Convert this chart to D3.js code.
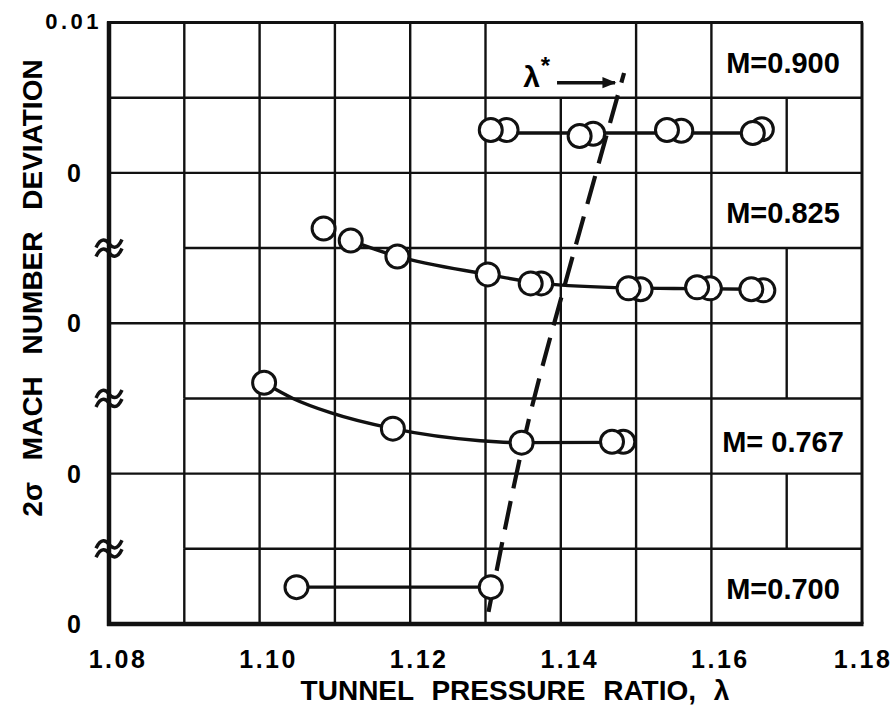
<!DOCTYPE html>
<html lang="en">
<head>
<meta charset="UTF-8">
<title>2σ Mach number deviation vs tunnel pressure ratio</title>
<script src="https://d3js.org/d3.v7.min.js"></script>
<style>
  body { margin: 0; background: #fff; }
  svg { display: block; font-family: 'Liberation Sans', Arial, sans-serif; font-weight: bold; }
  .grid { stroke: #111; stroke-width: 2.4; }
  .curve { fill: none; stroke: #111; stroke-width: 3.4; }
  .pt { fill: #fff; stroke: #111; stroke-width: 3; }
</style>
</head>
<body>
<svg id="chart" width="896" height="715"></svg>
<script>
// tunnel pressure ratio (lambda) and 2-sigma deviation per Mach number
const m900Lambda = [1.1307, 1.1328, 1.1425, 1.1443, 1.1541, 1.1560, 1.1655, 1.1667];
const m900Sigma  = [0.00285, 0.00285, 0.00245, 0.0026, 0.00285, 0.0028, 0.00265, 0.0029];
const m900FitL   = [1.1328, 1.1655];
const m900FitS   = [0.00265, 0.00265];

const m825Lambda = [1.1085, 1.1121, 1.1183, 1.1303, 1.1360, 1.1374, 1.1490, 1.1506, 1.1581, 1.1598, 1.1653, 1.1669];
const m825Sigma  = [0.0063, 0.0055, 0.00444, 0.00325, 0.00265, 0.00265, 0.00232, 0.00226, 0.00239, 0.00232, 0.00226, 0.00219];
const m825FitL   = [1.1121, 1.1183, 1.1303, 1.1374, 1.1490, 1.1581, 1.1653];
const m825FitS   = [0.0055, 0.00444, 0.00325, 0.00265, 0.00235, 0.0023, 0.00226];

const m767Lambda = [1.1006, 1.1177, 1.1348, 1.1468, 1.1483];
const m767Sigma  = [0.00604, 0.00299, 0.00206, 0.00212, 0.00212];
const m767FitL   = [1.1006, 1.1045, 1.1094, 1.1177, 1.1293, 1.1348, 1.1468];
const m767FitS   = [0.00604, 0.00498, 0.00405, 0.00299, 0.00219, 0.00206, 0.00208];

const m700Lambda = [1.1049, 1.1307];
const m700Sigma  = [0.00245, 0.00245];
const m700FitL   = [1.1049, 1.1307];
const m700FitS   = [0.00245, 0.00245];

// each Mach number gets its own 0..0.01 band, stacked on one axis
const machLabels = ["M=0.900", "M=0.825", "M= 0.767", "M=0.700"];
const panelBase  = [0.03, 0.02, 0.01, 0];
const labelSigma = [0.0074, 0.0074, 0.0022, 0.0024];

// critical pressure ratio locus (on the stacked axis)
const starLambda = [1.1304, 1.1349, 1.1406, 1.1433, 1.1484];
const starSigma  = [0.0008, 0.01177, 0.02268, 0.02753, 0.03664];

const xTicks = [1.08, 1.10, 1.12, 1.14, 1.16, 1.18];
const xTickLabels = ["1.08", "1.10", "1.12", "1.14", "1.16", "1.18"];
const yTicks = [0, 0.01, 0.02, 0.03, 0.04];
const yTickLabels = ["0", "0", "0", "0", "0.01"];
const breaks = [0.005, 0.015, 0.025];

const svg = d3.select('#chart');
const pLeft = 109, pRight = 862, pTop = 22.5, pBottom = 624;

const x = d3.scaleLinear().domain([1.08, 1.18]).range([pLeft, pRight]);
const y = d3.scaleLinear().domain([0, 0.04]).range([pBottom, pTop]);

// grid: 10 columns x 8 rows, with a few cells left open for the labels
const cols = d3.range(1, 10).map(i => 1.08 + i * 0.01);
const rows = d3.range(8).map(r => [0.04 - (r + 1) * 0.005, 0.04 - r * 0.005]);
const open = (i, r) => (i === 6 && r === 0) || (i === 9 && [0, 2, 5, 7].includes(r));

const g = svg.append('g');
cols.forEach((cx, k) => {
  rows.forEach((rw, r) => {
    if (open(k + 1, r)) return;
    g.append('line').attr('class', 'grid')
      .attr('x1', x(cx)).attr('x2', x(cx))
      .attr('y1', y(rw[0])).attr('y2', y(rw[1]));
  });
});
d3.range(1, 8).forEach(k => {
  const v = k * 0.005;
  const isBreak = breaks.some(b => Math.abs(b - v) < 1e-9);
  g.append('line').attr('class', 'grid')
    .attr('x1', x(isBreak ? 1.09 : 1.08)).attr('x2', x(1.18))
    .attr('y1', y(v)).attr('y2', y(v));
});

// frame
g.append('line').attr('x1', pLeft - 2).attr('x2', pRight + 1).attr('y1', pTop).attr('y2', pTop)
  .attr('stroke', '#111').attr('stroke-width', 3);
g.append('line').attr('x1', pRight).attr('x2', pRight).attr('y1', pTop).attr('y2', pBottom)
  .attr('stroke', '#111').attr('stroke-width', 3);
g.append('line').attr('x1', pLeft).attr('x2', pLeft).attr('y1', pTop - 1).attr('y2', pBottom + 2)
  .attr('stroke', '#111').attr('stroke-width', 4.5);
g.append('line').attr('x1', pLeft - 2).attr('x2', pRight + 1.5).attr('y1', pBottom).attr('y2', pBottom)
  .attr('stroke', '#111').attr('stroke-width', 4.5);

// axis break marks
breaks.forEach(b => {
  [-4.5, 4.5].forEach(off => {
    g.append('path')
      .attr('transform', `translate(${pLeft},${y(b) + off})`)
      .attr('d', 'M-13,4 C-8,-7 -3,-4 0,0 C3,4 8,7 13,-4')
      .attr('fill', 'none').attr('stroke', '#111').attr('stroke-width', 3.5);
  });
});

// tick labels (hand lettering sits a little right of each tick; last one kept inside)
svg.selectAll('.xt').data(xTicks).enter().append('text')
  .attr('x', (d, i) => x(d) + (i === xTicks.length - 1 ? 1 : 9)).attr('y', 668)
  .attr('text-anchor', 'middle').attr('font-size', 25).attr('letter-spacing', 2.5)
  .text((d, i) => xTickLabels[i]);

svg.selectAll('.yt').data(yTicks).enter().append('text')
  .attr('x', (d, i) => i === 4 ? 102 : 74)
  .attr('y', d => y(d) + (d === 0.04 ? 6 : 9))
  .attr('text-anchor', (d, i) => i === 4 ? 'end' : 'middle')
  .attr('font-size', (d, i) => i === 4 ? 22 : 25)
  .attr('letter-spacing', (d, i) => i === 4 ? 3.5 : 0)
  .text((d, i) => yTickLabels[i]);

// axis titles
svg.append('text')
  .attr('transform', 'translate(42,288) rotate(-90)')
  .attr('text-anchor', 'middle').attr('font-size', 28).attr('word-spacing', 14)
  .text('2σ MACH NUMBER DEVIATION');

svg.append('text')
  .attr('x', 515).attr('y', 700)
  .attr('text-anchor', 'middle').attr('font-size', 28).attr('word-spacing', 10)
  .text('TUNNEL PRESSURE RATIO, λ');

// Mach labels
machLabels.forEach((t, i) => {
  svg.append('text')
    .attr('x', 783).attr('y', y(panelBase[i] + labelSigma[i]) + 11)
    .attr('text-anchor', 'middle').attr('font-size', 29)
    .text(t);
});

// lambda* locus
const starLine = d3.line().x(d => x(d[0])).y(d => y(d[1])).curve(d3.curveMonotoneX);
svg.append('path')
  .attr('d', starLine(starLambda.map((l, i) => [l, starSigma[i]])))
  .attr('fill', 'none').attr('stroke', '#111').attr('stroke-width', 4.2)
  .attr('stroke-dasharray', '29,13');

// faired curves and data points
const series = [
  { base: panelBase[0], L: m900Lambda, S: m900Sigma, fL: m900FitL, fS: m900FitS },
  { base: panelBase[1], L: m825Lambda, S: m825Sigma, fL: m825FitL, fS: m825FitS },
  { base: panelBase[2], L: m767Lambda, S: m767Sigma, fL: m767FitL, fS: m767FitS },
  { base: panelBase[3], L: m700Lambda, S: m700Sigma, fL: m700FitL, fS: m700FitS }
];
const fit = d3.line().x(d => x(d[0])).y(d => y(d[1])).curve(d3.curveMonotoneX);

series.forEach(s => {
  svg.append('path').attr('class', 'curve')
    .attr('d', fit(s.fL.map((l, i) => [l, s.base + s.fS[i]])));
  const pts = s.L.map((l, i) => [l, s.base + s.S[i]]).reverse();
  svg.append('g').selectAll('circle').data(pts).enter().append('circle')
    .attr('class', 'pt')
    .attr('cx', d => x(d[0])).attr('cy', d => y(d[1])).attr('r', 11.5);
});

// lambda* annotation with arrow
svg.append('defs').append('marker')
  .attr('id', 'head').attr('viewBox', '0 0 10 10').attr('refX', 9).attr('refY', 5)
  .attr('markerWidth', 5).attr('markerHeight', 4).attr('orient', 'auto')
  .append('path').attr('d', 'M0,1 L10,5 L0,9 Z').attr('fill', '#111');

svg.append('line')
  .attr('x1', x(1.1395)).attr('x2', x(1.1472))
  .attr('y1', y(0.0360)).attr('y2', y(0.0360))
  .attr('stroke', '#111').attr('stroke-width', 3.5).attr('marker-end', 'url(#head)');

const lab = svg.append('text')
  .attr('x', x(1.1350)).attr('y', y(0.0357))
  .attr('font-size', 30);
lab.append('tspan').text('λ');
lab.append('tspan').attr('dy', -13).attr('dx', 1).attr('font-size', 24).text('*');
</script>
</body>
</html>
